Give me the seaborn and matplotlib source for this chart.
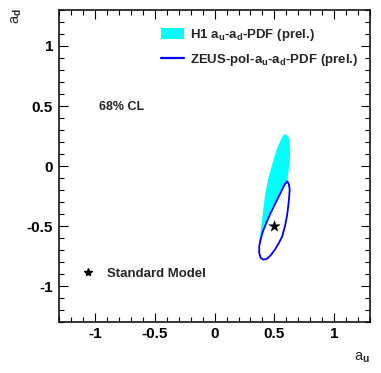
import numpy as np
import matplotlib
matplotlib.use('Agg')
import matplotlib.pyplot as plt
from matplotlib.patches import Patch
from matplotlib.lines import Line2D
from matplotlib.ticker import MultipleLocator, FuncFormatter
import seaborn as sns

# H1 68% CL contour (a_u, a_d); lower end is hidden by the ZEUS contour
h1_au = [0.588, 0.616, 0.628, 0.630, 0.633, 0.630, 0.628, 0.619, 0.611, 0.600,
         0.570, 0.520, 0.450, 0.400, 0.373, 0.379, 0.393, 0.407, 0.421, 0.435,
         0.452, 0.468, 0.484, 0.500, 0.517, 0.534, 0.552, 0.566]
h1_ad = [0.269, 0.243, 0.215, 0.173, 0.132, 0.076, 0.021, -0.035, -0.091, -0.180,
         -0.300, -0.450, -0.600, -0.655, -0.641, -0.585, -0.475, -0.363, -0.252, -0.168,
         -0.091, -0.035, 0.021, 0.076, 0.132, 0.173, 0.215, 0.243]

# ZEUS-pol 68% CL contour
zeus_au = [0.608, 0.622, 0.628, 0.624, 0.616, 0.605, 0.588, 0.566, 0.538, 0.505,
           0.469, 0.435, 0.407, 0.385, 0.373, 0.373, 0.385, 0.404, 0.432, 0.469,
           0.510, 0.552, 0.586]
zeus_ad = [-0.129, -0.154, -0.196, -0.252, -0.335, -0.419, -0.502, -0.585, -0.641, -0.696,
           -0.744, -0.775, -0.780, -0.766, -0.725, -0.669, -0.613, -0.544, -0.475, -0.391,
           -0.308, -0.224, -0.154]

# Standard Model expectation
sm_au = [0.5]
sm_ad = [-0.5]

ticks = [-1, -0.5, 0, 0.5, 1]

sns.set_style('ticks')
plt.rcParams['font.family'] = ['Liberation Sans', 'DejaVu Sans']
plt.rcParams['font.weight'] = 'bold'
plt.rcParams['mathtext.fontset'] = 'custom'
plt.rcParams['mathtext.rm'] = 'Liberation Sans:bold'
plt.rcParams['mathtext.it'] = 'Liberation Sans:bold'
plt.rcParams['mathtext.bf'] = 'Liberation Sans:bold'
plt.rcParams['axes.unicode_minus'] = False

fig = plt.figure(figsize=(3.81, 3.73), dpi=100)
ax = fig.add_axes([0.1556, 0.1367, 0.8155, 0.8365])

ax.fill(h1_au, h1_ad, color='#00ffff', lw=0, zorder=1)
ax.fill(zeus_au, zeus_ad, color='white', lw=0, zorder=2)
zx = zeus_au + zeus_au[:1]
zy = zeus_ad + zeus_ad[:1]
sns.lineplot(x=zx, y=zy, sort=False, estimator=None, color='#0000ff', lw=1.3, ax=ax, zorder=3)
sns.scatterplot(x=sm_au, y=sm_ad, marker='*', s=70, color='black', edgecolor='black',
                linewidth=0.3, ax=ax, zorder=4)

ax.set_xlim(-1.3, 1.3)
ax.set_ylim(-1.3, 1.3)
ax.set_xticks(ticks)
ax.set_yticks(ticks)
ax.xaxis.set_minor_locator(MultipleLocator(0.1))
ax.yaxis.set_minor_locator(MultipleLocator(0.1))
fmt = FuncFormatter(lambda v, p: f'{v:g}')
ax.xaxis.set_major_formatter(fmt)
ax.yaxis.set_major_formatter(fmt)
ax.tick_params(which='both', direction='in', top=True, right=True, width=0.8, colors='black')
ax.tick_params(which='major', length=6.5, labelsize=11, pad=3.5)
ax.tick_params(which='minor', length=3.6)
ax.tick_params(axis='y', which='major', pad=4.5)
for s in ax.spines.values():
    s.set_linewidth(1.1)
    s.set_color('black')

ax.set_xlabel(r'a$_\mathrm{u}$', fontsize=10.5, loc='right')
ax.xaxis.set_label_coords(1.0, -0.093)
ax.set_ylabel(r'a$_\mathrm{d}$', fontsize=10.5, loc='top')
ax.yaxis.set_label_coords(-0.114, 1.005)

ax.text(-0.97, 0.49, '68% CL', fontsize=9, va='center', ha='left')

handles = [Patch(facecolor='#00ffff', edgecolor='none'),
           Line2D([], [], color='#0000ff', lw=1.6)]
labels = [r'H1 a$_\mathrm{u}$-a$_\mathrm{d}$-PDF (prel.)',
          r'ZEUS-pol-a$_\mathrm{u}$-a$_\mathrm{d}$-PDF (prel.)']
leg = ax.legend(handles, labels, loc='upper left', bbox_to_anchor=(0.327, 0.945),
                frameon=False, borderpad=0, borderaxespad=0, handlelength=1.74,
                handleheight=0.83, handletextpad=0.5, labelspacing=0.68,
                prop={'size': 9.5, 'weight': 'bold'})
ax.add_artist(leg)

sm_handle = [Line2D([], [], ls='none', marker='*', color='black', markersize=6)]
ax.legend(sm_handle, ['Standard Model'], loc='center left', bbox_to_anchor=(0.072, 0.154),
          frameon=False, borderpad=0, borderaxespad=0, handlelength=1.0,
          handletextpad=0.93, prop={'size': 9.5, 'weight': 'bold'})

fig.savefig('out.png', dpi=100)
